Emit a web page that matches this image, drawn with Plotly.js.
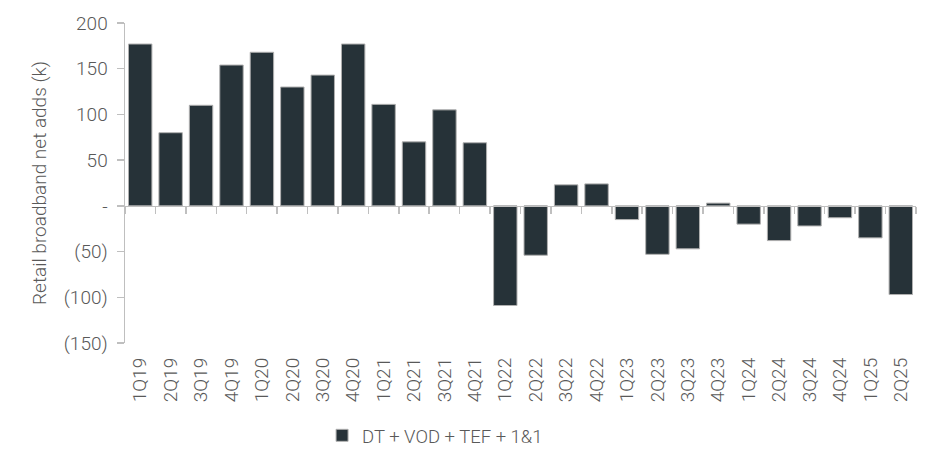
<!DOCTYPE html>
<html>
<head>
<meta charset="utf-8">
<script src="https://cdn.plot.ly/plotly-3.0.1.min.js"></script>
<style>html,body{margin:0;padding:0;background:#fff;}#chart{width:940px;height:469px;}</style>
</head>
<body>
<div id="chart"></div>
<script>
const quarters = ["1Q19","2Q19","3Q19","4Q19","1Q20","2Q20","3Q20","4Q20","1Q21","2Q21","3Q21","4Q21",
  "1Q22","2Q22","3Q22","4Q22","1Q23","2Q23","3Q23","4Q23","1Q24","2Q24","3Q24","4Q24","1Q25","2Q25"];
const netAdds = [177,80,110,154,168,130,143,177,111,70,105,69,
  -109,-54,23,24,-15,-53,-47,3,-20,-38,-22,-13,-35,-97];
const seriesName = "DT + VOD + TEF + 1&1";
const yTickVals = [200,150,100,50,0,-50,-100,-150];
const yTickText = ["200","150","100","50","-","(50)","(100)","(150)"];
const yRange = [-150, 200];

const barColor = "#263238";
const textColor = "#595959";
const axisColor = "#bfbfbf";
const font = "Roboto, 'Open Sans', sans-serif";

const traces = [
  {
    type: "bar", x: quarters, y: netAdds, name: seriesName,
    marker: {color: barColor, line: {color: "#b0b0b0", width: 1}},
    hoverinfo: "x+y"
  },
  {
    type: "bar", x: quarters, y: netAdds, xaxis: "x2", yaxis: "y",
    marker: {color: "rgba(0,0,0,0)"}, showlegend: false, hoverinfo: "skip"
  }
];

const zeroPos = (0 - yRange[0]) / (yRange[1] - yRange[0]);

const layout = {
  width: 940, height: 469,
  margin: {l: 125, r: 24, t: 23, b: 126},
  paper_bgcolor: "#fff", plot_bgcolor: "#fff",
  font: {family: font, color: textColor, size: 19, weight: 300},
  bargap: 0.23,
  showlegend: true,
  legend: {orientation: "h", x: 0.392, xanchor: "center", y: -0.29, yanchor: "middle",
           font: {family: font, size: 18.5, color: textColor, weight: 300}},
  xaxis: {
    type: "category", range: [-0.5, 25.5], tickangle: -90,
    showline: false, ticks: "", showgrid: false, zeroline: false,
    ticklabelstandoff: 10, tickfont: {size: 19, color: textColor, weight: 300}
  },
  xaxis2: {
    type: "category", overlaying: "x", anchor: "free", position: zeroPos,
    range: [-0.5, 25.5], showticklabels: false, showline: true,
    linecolor: axisColor, linewidth: 1.5, ticks: "outside", ticklen: 7,
    tickcolor: axisColor, tickwidth: 1.5, tickson: "boundaries", showgrid: false, zeroline: false
  },
  yaxis: {
    range: yRange, tickvals: yTickVals, ticktext: yTickText,
    showline: true, linecolor: axisColor, linewidth: 1.5,
    ticks: "outside", ticklen: 7, tickcolor: axisColor, tickwidth: 1.5,
    showgrid: false, zeroline: false, ticklabelstandoff: 5,
    tickfont: {size: 19, color: textColor, weight: 300},
    title: {text: "Retail broadband net adds (k)", font: {size: 19, color: textColor, weight: 300}, standoff: 12}
  }
};

Plotly.newPlot("chart", traces, layout, {displayModeBar: false, staticPlot: true});
</script>
</body>
</html>
